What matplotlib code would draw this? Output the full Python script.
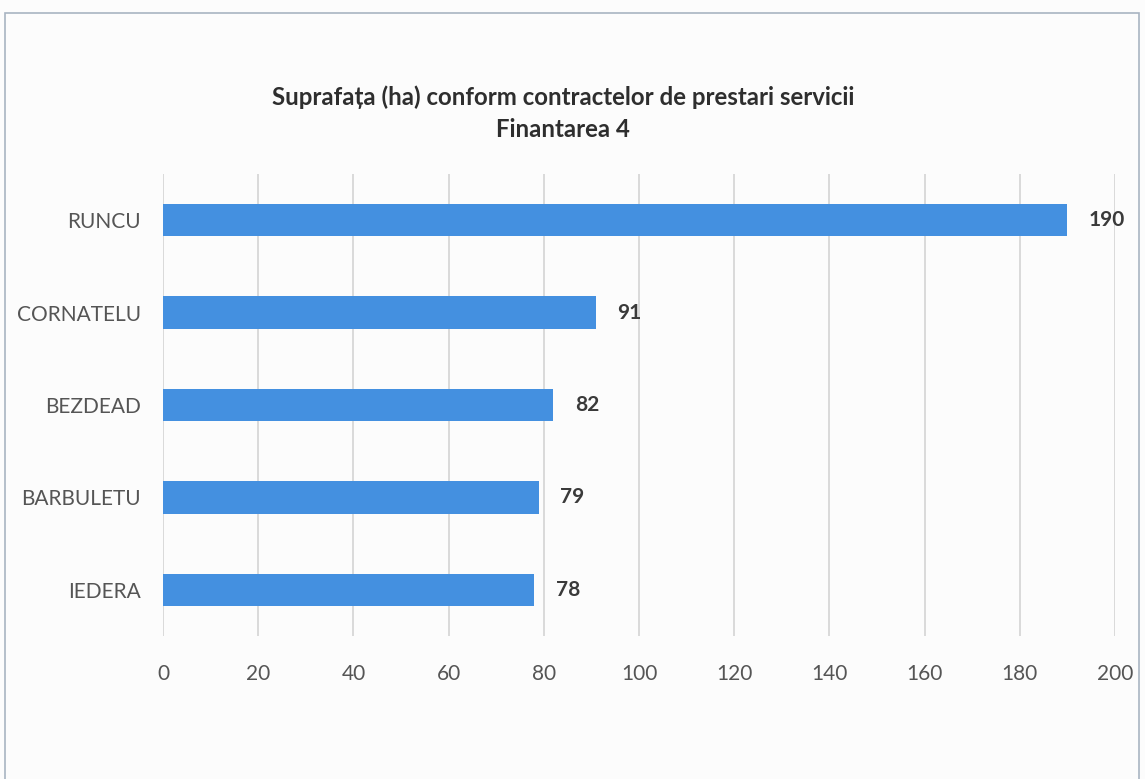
import matplotlib.pyplot as plt
from matplotlib.patches import Rectangle

plt.rcParams['font.family'] = ['Lato', 'DejaVu Sans']

# Date
localitati = ['RUNCU', 'CORNATELU', 'BEZDEAD', 'BARBULETU', 'IEDERA']
suprafata = [190, 91, 82, 79, 78]
x_ticks = [0, 20, 40, 60, 80, 100, 120, 140, 160, 180, 200]

fig = plt.figure(figsize=(11.45, 7.79), dpi=100)
fig.patch.set_facecolor('#fcfcfc')

# chenarul graficului
fig.patches.append(Rectangle((0.004, -0.02), 0.991, 1.003, transform=fig.transFigure,
                             fill=False, edgecolor='#a9b4c2', linewidth=1.2))

ax = fig.add_axes([0.1424, 0.1836, 0.8314, 0.593])
ax.set_facecolor('none')

y = list(range(len(localitati)))
ax.barh(y, suprafata, height=0.35, color='#4490e0', zorder=3)

ax.set_xlim(0, 200)
ax.set_ylim(len(localitati) - 0.5, -0.5)
ax.set_xticks(x_ticks)
ax.set_yticks(y)
ax.set_yticklabels(localitati)

ax.grid(axis='x', color='#d4d4d4', linewidth=1.2, zorder=0)
for s in ax.spines.values():
    s.set_visible(False)
ax.tick_params(axis='both', length=0, colors='#555555', labelsize=15)
ax.tick_params(axis='x', pad=20)
ax.tick_params(axis='y', pad=16)

for yi, v in zip(y, suprafata):
    ax.text(v + 4.5, yi, str(v), va='center', ha='left', fontsize=15,
            fontweight='bold', color='#3a3a3a')

fig.text(0.492, 0.855, 'Suprafața (ha) conform contractelor de prestari servicii\nFinantarea 4',
         ha='center', va='center', fontsize=17.3, fontweight='bold', color='#2e2e2e',
         linespacing=1.5)

fig.savefig('out.png', dpi=100, facecolor=fig.get_facecolor())
